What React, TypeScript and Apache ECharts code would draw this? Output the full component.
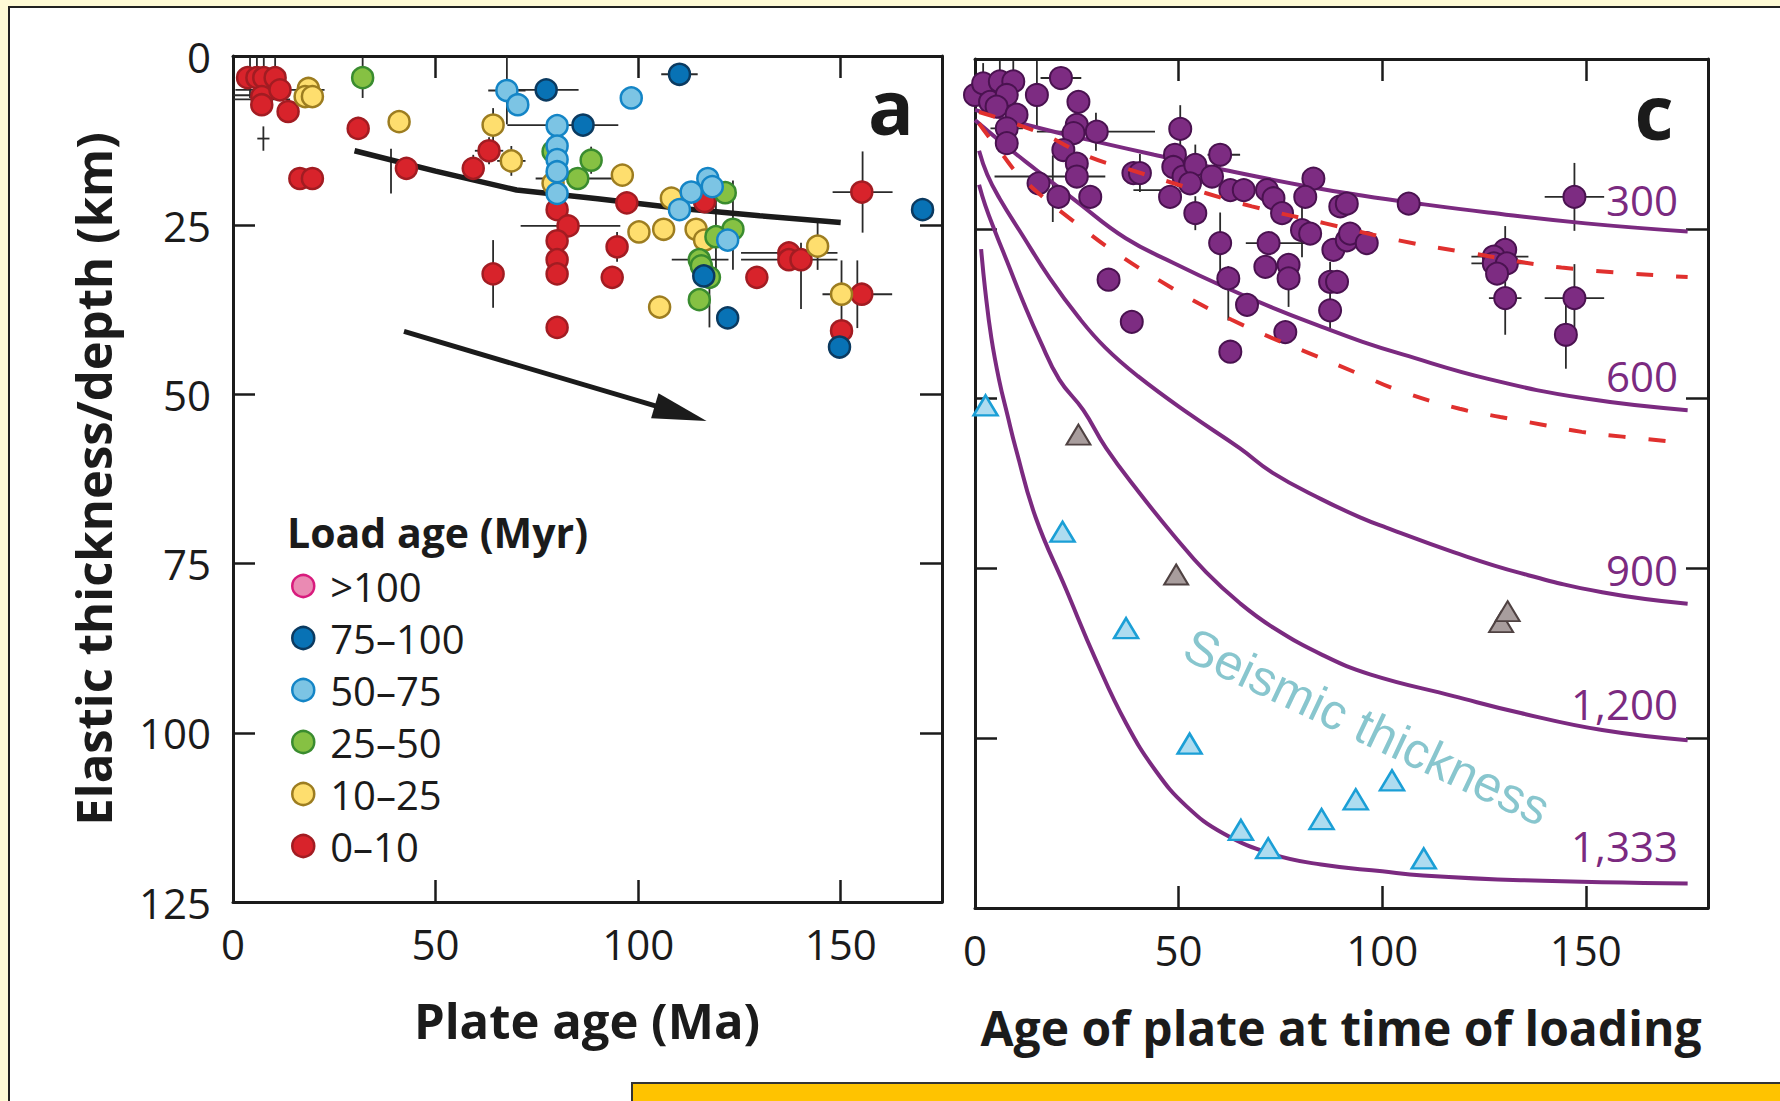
import React, { useEffect, useRef } from "react";
import * as echarts from "echarts";

// ---------------- data (panel a) ----------------
const leftXRange = [0, 175];
const rightXRange = [0, 180];
const depthRange = [0, 125];
const xTickStep = 50;
const yTickStep = 25;

const loadAgeNames = [">100", "75–100", "50–75", "25–50", "10–25", "0–10"];

const loadGt100: number[][] = [];
const load75to100 = [
  [77.3, 5.0], [86.4, 10.2], [110.2, 2.7], [116.2, 32.5], [122.1, 38.7], [149.7, 43.0], [170.2, 22.7],
];
const load50to75 = [
  [67.6, 5.1], [70.3, 7.2], [98.3, 6.2], [80, 10.3], [80, 13.3], [80, 15.3], [80, 17.1], [80, 20.3],
  [117.2, 18.1], [118.3, 19.3], [113.1, 20.1], [110.2, 22.7], [122.1, 27.2],
];
const load25to50 = [
  [32.0, 3.2], [79.0, 14.1], [88.4, 15.4], [85.1, 18.1], [121.5, 20.2], [123.4, 25.6], [119.2, 26.7],
  [115.1, 30.1], [115.6, 31.0], [117.6, 32.7], [115.1, 36.0],
];
const load10to25 = [
  [18.6, 4.8], [17.8, 6.0], [19.6, 6.0], [41.0, 9.7], [64.2, 10.2], [68.7, 15.5], [79.0, 18.8],
  [96.1, 17.6], [100.2, 26.0], [106.3, 25.6], [108.2, 21.0], [114.3, 25.6], [116.4, 27.2],
  [105.3, 37.1], [144.3, 28.1], [150.2, 35.2],
];
const load0to10 = [
  [3.6, 3.2], [5.9, 3.2], [7.6, 3.2], [10.4, 3.2], [7.1, 6.0], [7.1, 7.2], [11.6, 5.0], [13.6, 8.2],
  [16.5, 18.1], [19.6, 18.1], [30.9, 10.7], [42.8, 16.6], [59.3, 16.6], [63.2, 14.0], [64.2, 32.2],
  [80.0, 22.7], [82.7, 25.1], [80.0, 27.3], [80.0, 30.1], [80.0, 32.2], [80.0, 40.1],
  [97.2, 21.7], [94.8, 28.2], [93.6, 32.7], [116.4, 21.5], [129.3, 32.7], [137.2, 29.1],
  [137.2, 30.1], [140.2, 30.1], [155.2, 20.1], [155.2, 35.2], [150.2, 40.6],
];

// [x, y, xErr, yErr]
const errorBarsLeft = [
  [4.2, 3.2, 0, 3], [5.9, 3.2, 0, 3], [7.6, 3.2, 0, 3], [10.4, 3.2, 0, 3],
  [11.6, 5.0, 11, 0], [7.1, 5.8, 7, 0], [7.1, 6.4, 7, 0], [7.5, 12.2, 1.5, 1.8],
  [30.9, 10.7, 0, 1.7], [32.0, 3.2, 0, 3], [39.0, 17.0, 0, 3.3], [59.3, 16.6, 0, 2],
  [64.2, 32.2, 0, 5], [64.2, 10.2, 0, 2.5], [67.6, 5.1, 4.6, 5], [81.4, 10.2, 13.7, 0],
  [77.3, 5.0, 8, 1.6], [110.2, 2.7, 4.5, 1.3], [63.2, 14.0, 3.5, 2], [68.7, 15.5, 3.5, 2.2],
  [83.3, 25.1, 12.3, 0], [84.7, 18.1, 10, 0], [88.4, 15.4, 0, 2], [94.8, 28.2, 0, 2.2],
  [96.1, 17.6, 0, 1.5], [100.2, 26, 0, 1.5], [119.2, 25, 0, 6.6], [123.4, 25, 0, 6.6],
  [117.6, 36.4, 0, 3.7], [115.3, 30.1, 7, 0], [137.3, 30.1, 11.9, 0], [137.3, 29.1, 11.9, 0],
  [140.2, 32.5, 0, 4.9], [144.3, 28.1, 0, 3.5], [155.4, 20.1, 7.4, 6], [154.1, 35.2, 8.6, 5],
  [150.2, 35.2, 0, 5], [170.2, 22.7, 0, 1.5],
];

const trendLine = [[30, 14], [50, 17], [70, 19.8], [90, 21.1], [110, 22.5], [130, 23.6], [150, 24.6]];
const arrowStart = [42.2, 40.7];
const arrowEnd = [110.5, 52.8];

// ---------------- data (panel c) ----------------
const flexureDepths = [
  [0, 5.3], [2, 3.6], [6.1, 3.3], [9.4, 3.3], [3.7, 6.3], [7.8, 5.3], [5.3, 7.0], [10.2, 8.2], [7.8, 10.2], [7.8, 12.4],
  [15.2, 5.3], [21.1, 2.8], [25.4, 6.3], [25, 9.7], [24.2, 10.9], [29.9, 10.7], [21.7, 13.4], [25, 15.4], [25, 17.3],
  [15.6, 18.3], [20.5, 20.3], [28.3, 20.3], [32.8, 32.5], [38.5, 38.7], [38.9, 16.8], [40.5, 16.8],
  [50.4, 10.3], [49.1, 14.1], [48.7, 15.9], [47.9, 20.3], [51.2, 17.3], [54.1, 15.6], [52.8, 18.3], [58.2, 17.3],
  [60.2, 14.1], [54.1, 22.7], [62.7, 19.3], [66, 19.3], [71.7, 19.3], [73.3, 20.5], [75.4, 22.7], [83.1, 17.6],
  [81.1, 20.3], [89.7, 21.7], [91.3, 21.3], [60.2, 27.1], [72.1, 27.1], [80.3, 25.2], [82.3, 25.7], [71.3, 30.6],
  [77, 30.3], [77, 32.3], [62.2, 32.3], [88, 28.1], [91.3, 26.7], [92.1, 25.7], [96.2, 27.1], [87.2, 32.8],
  [88.9, 32.8], [87.2, 37], [66.8, 36.2], [76.2, 40.2], [62.7, 43.1], [106.5, 21.3], [130.2, 28.1],
  [127.4, 29.1], [127.4, 30.1], [130.6, 30.1], [128.2, 31.6], [130.2, 35.2], [147.2, 20.3], [147.2, 35.2],
  [145.1, 40.6],
];

const errorBarsRight = [
  [2, 3.6, 0, 3], [6.1, 3.3, 0, 3], [9.4, 3.3, 0, 3],
  [21.1, 2.8, 5, 1.2], [15.2, 5.3, 0, 5], [7.8, 10.2, 4, 0], [29.7, 10.7, 14.5, 2.8], [18.4, 17.3, 13.6, 0],
  [19.1, 19.1, 0, 4.9], [40.5, 16.8, 0, 2.8], [43.8, 19.3, 4.9, 0], [50.4, 10.3, 0, 3.5], [54.1, 15.6, 0, 3],
  [61.1, 14.1, 4, 0], [60.2, 27.1, 0, 4.5], [62.2, 34.5, 0, 4], [54.1, 22.7, 0, 2.5], [74, 27.1, 7.5, 0],
  [80.3, 25.2, 0, 4], [77, 33.5, 0, 3], [83.1, 17.6, 0, 1.5], [87.2, 34.9, 0, 5], [106.5, 21.3, 0, 1.5],
  [130.2, 32.6, 0, 8], [128.9, 29.1, 7, 0], [128.9, 30.1, 7, 0], [130.2, 35.2, 4, 0], [147.2, 20.3, 7.3, 5],
  [147.2, 35.2, 7.3, 5], [145.1, 40.6, 0, 5],
];

const seismicThickness = [
  [2.6, 51], [21.5, 69.6], [37.1, 83.8], [52.7, 100.8], [65.3, 113.5], [72, 116.2], [85.1, 111.9],
  [93.5, 109], [102.4, 106.2], [110.2, 117.7],
];
const otherSeismic = [[25.4, 55.3], [49.4, 75.9], [129.2, 82.9], [130.8, 81.3]];

const isotherm300 = [[0, 7.5], [16, 10.2], [30, 12.2], [44, 14.1], [61, 16.3], [82, 18.8], [95, 20.1], [109, 21.3], [126, 22.6], [150, 24.2], [175, 25.4]];
const isotherm600 = [[0, 9], [8, 13], [15, 16.3], [25, 21], [37, 26.4], [49, 30.1], [61, 33.5], [73, 36.6], [85, 39.4], [95, 41.6], [105, 43.5], [126, 47.1], [150, 50], [175, 51.7]];
const isotherm900 = [[1, 13.5], [3, 17], [6, 20.5], [11.5, 25.8], [18.4, 32.3], [25.4, 38], [32, 42.5], [40, 46.7], [52.7, 52.3], [65, 57.3], [73, 60.9], [85, 64.8], [95, 67.6], [101, 69], [117.5, 72.6], [134, 75.7], [154, 78.5], [175, 80.2]];
const isotherm1200 = [[1, 18.5], [2.5, 21.5], [5, 25.5], [8, 30], [12, 36], [16, 41.5], [20.7, 47.2], [26.6, 51.7], [32.2, 57.3], [40.4, 63.9], [48.6, 70], [56.8, 75.6], [65, 80.1], [73.2, 83.7], [85.5, 87.8], [97, 90.6], [117.5, 93.8], [134, 96.3], [154, 98.8], [175, 100.3]];
const isotherm1333 = [[1.5, 28], [2.5, 34], [4, 41], [5.9, 47.2], [8, 52.5], [10, 57.3], [14.9, 67.5], [22.3, 78], [29.7, 88.5], [37.1, 97.8], [44.5, 104.9], [51.9, 110], [60.9, 114], [73.2, 117.1], [85, 118.6], [100, 119.6], [110, 120.2], [134, 120.9], [175, 121.4]];
const dashedUpper = [[1, 7.8], [16, 10.9], [28, 14.4], [37, 16.1], [57, 19.8], [68, 21.7], [86, 24.2], [104, 26.7], [122, 28.6], [144, 30.7], [175, 32.1]];
const dashedLower = [[1, 9.5], [6, 13.5], [12, 17.8], [27, 25.2], [36, 29.1], [45, 32.5], [55, 36], [63, 38.4], [73, 41.1], [82, 43.3], [94, 46.3], [105, 49], [119, 51.5], [129, 52.7], [139, 53.8], [149, 54.9], [159, 55.6], [174, 56.5]];

const isothermLabels = ["300", "600", "900", "1,200", "1,333"];

// ---------------- styles ----------------
const INK = "#1b1b1b";
const PURPLE = "#7b2a80";
const FONT = "'Open Sans', 'Noto Sans', sans-serif";

const loadStyles: Record<string, { fill: string; stroke: string }> = {
  ">100": { fill: "#ea8ab3", stroke: "#d81b7d" },
  "75–100": { fill: "#0872b5", stroke: "#0b3a60" },
  "50–75": { fill: "#7cc4e4", stroke: "#1485c6" },
  "25–50": { fill: "#86c143", stroke: "#3a8c2f" },
  "10–25": { fill: "#fede6e", stroke: "#9d7d20" },
  "0–10": { fill: "#d8232b", stroke: "#a21c22" },
};
const loadData: Record<string, number[][]> = {
  ">100": loadGt100,
  "75–100": load75to100,
  "50–75": load50to75,
  "25–50": load25to50,
  "10–25": load10to25,
  "0–10": load0to10,
};
const drawOrder = ["0–10", "10–25", "25–50", "50–75", "75–100", ">100"];

const errRender = (_params: any, api: any) => {
  const x = api.value(0), y = api.value(1), ex = api.value(2), ey = api.value(3);
  const style = { stroke: "#2a2a2a", lineWidth: 1.8 };
  const children: any[] = [];
  if (ex > 0) {
    const a = api.coord([x - ex, y]);
    const b = api.coord([x + ex, y]);
    children.push({ type: "line", shape: { x1: a[0], y1: a[1], x2: b[0], y2: b[1] }, style });
  }
  if (ey > 0) {
    const a = api.coord([x, y - ey]);
    const b = api.coord([x, y + ey]);
    children.push({ type: "line", shape: { x1: a[0], y1: a[1], x2: b[0], y2: b[1] }, style });
  }
  return { type: "group", children };
};

function makeX(gridIndex: number, range: number[], position: "top" | "bottom", labels: boolean) {
  return {
    type: "value", gridIndex, min: range[0], max: range[1], interval: xTickStep, position,
    axisLine: { show: true, onZero: false, lineStyle: { color: INK, width: 3 } },
    axisTick: { show: true, inside: true, length: 22, lineStyle: { color: INK, width: 2.5 } },
    axisLabel: { show: labels, fontSize: 42, color: INK, fontFamily: FONT, margin: 20, showMaxLabel: false },
    splitLine: { show: false },
  };
}
function makeY(gridIndex: number, position: "left" | "right", labels: boolean) {
  return {
    type: "value", gridIndex, min: depthRange[0], max: depthRange[1], interval: yTickStep, inverse: true, position,
    axisLine: { show: true, onZero: false, lineStyle: { color: INK, width: 3 } },
    axisTick: { show: true, inside: true, length: 22, lineStyle: { color: INK, width: 2.5 } },
    axisLabel: { show: labels, fontSize: 42, color: INK, fontFamily: FONT, margin: 22 },
    splitLine: { show: false },
  };
}

function curve(data: number[][], color: string, width: number, dashed = false) {
  return {
    type: "line", xAxisIndex: 2, yAxisIndex: 2, data, symbol: "none", smooth: 0.45, silent: true,
    lineStyle: { color, width, type: dashed ? [17, 23] : "solid" }, z: dashed ? 4 : 2,
  };
}

const textStyle = (extra: any) => ({
  fontFamily: FONT, fill: INK, align: "center", verticalAlign: "middle",
  textAlign: "center", textVerticalAlign: "middle", ...extra,
});

export default function App() {
  const ref = useRef<HTMLDivElement>(null);

  useEffect(() => {
    if (!ref.current) return;
    const chart = echarts.init(ref.current, null, { renderer: "svg" });

    const scatterLeft = drawOrder.map((name) => ({
      name, type: "scatter", xAxisIndex: 0, yAxisIndex: 0, data: loadData[name],
      symbol: "circle", symbolSize: 21, clip: false, z: 3,
      itemStyle: { color: loadStyles[name].fill, borderColor: loadStyles[name].stroke, borderWidth: 2.5, opacity: 1 },
    }));

    const option: any = {
      animation: false,
      grid: [
        { left: 233, top: 56, width: 709, height: 846 },
        { left: 975, top: 59, width: 733, height: 849 },
      ],
      xAxis: [
        makeX(0, leftXRange, "bottom", true),
        makeX(0, leftXRange, "top", false),
        makeX(1, rightXRange, "bottom", true),
        makeX(1, rightXRange, "top", false),
      ],
      yAxis: [
        makeY(0, "left", true),
        makeY(0, "right", false),
        makeY(1, "left", false),
        makeY(1, "right", false),
      ],
      legend: {
        orient: "vertical", left: 286, top: 561, itemWidth: 22, itemHeight: 22, itemGap: 12,
        icon: "circle", selectedMode: false,
        data: loadAgeNames.map((n) => ({
          name: n, icon: "circle",
          itemStyle: { color: loadStyles[n].fill, borderColor: loadStyles[n].stroke, borderWidth: 2.5 },
        })),
        textStyle: { fontSize: 40, fontFamily: FONT, color: INK, lineHeight: 40, padding: [0, 0, 0, 11] },
      },
      series: [
        {
          type: "custom", name: "errLeft", xAxisIndex: 0, yAxisIndex: 0, data: errorBarsLeft,
          renderItem: errRender, encode: { x: 0, y: 1 }, silent: true, z: 1,
        },
        {
          type: "line", name: "trend", xAxisIndex: 0, yAxisIndex: 0, data: trendLine, symbol: "none",
          lineStyle: { color: INK, width: 5.5 }, silent: true, z: 2,
          markLine: {
            silent: true, symbol: ["none", "triangle"], symbolSize: [26, 54],
            lineStyle: { color: INK, width: 5, type: "solid" },
            itemStyle: { color: INK },
            label: { show: false },
            data: [[{ coord: arrowStart }, { coord: arrowEnd }]],
          },
        },
        ...scatterLeft,
        curve(isotherm300, PURPLE, 4),
        curve(isotherm600, PURPLE, 4),
        curve(isotherm900, PURPLE, 4),
        curve(isotherm1200, PURPLE, 4),
        curve(isotherm1333, PURPLE, 4),
        {
          type: "custom", name: "errRight", xAxisIndex: 2, yAxisIndex: 2, data: errorBarsRight,
          renderItem: errRender, encode: { x: 0, y: 1 }, silent: true, z: 2,
        },
        {
          type: "scatter", name: "flexure", xAxisIndex: 2, yAxisIndex: 2, data: flexureDepths,
          symbol: "circle", symbolSize: 22, clip: false, z: 3,
          itemStyle: { color: "#7d2c82", borderColor: "#4a1250", borderWidth: 2, opacity: 1 },
        },
        {
          type: "scatter", name: "seismic", xAxisIndex: 2, yAxisIndex: 2, data: seismicThickness,
          symbol: "triangle", symbolSize: [24, 20], clip: false, z: 3,
          itemStyle: { color: "#aedcf0", borderColor: "#1b9fd6", borderWidth: 2.5, opacity: 1 },
        },
        {
          type: "scatter", name: "seismicOther", xAxisIndex: 2, yAxisIndex: 2, data: otherSeismic,
          symbol: "triangle", symbolSize: [24, 20], clip: false, z: 3,
          itemStyle: { color: "#a89d9d", borderColor: "#4f4242", borderWidth: 2, opacity: 1 },
        },
        curve(dashedUpper, "#e0302e", 4, true),
        curve(dashedLower, "#e0302e", 4, true),
      ],
      graphic: [
        { type: "text", x: 93, y: 479, rotation: Math.PI / 2, z: 10,
          style: textStyle({ text: "Elastic thickness/depth (km)", fontSize: 49, fontWeight: "bold" }) },
        { type: "text", x: 587, y: 1020, z: 10,
          style: textStyle({ text: "Plate age (Ma)", fontSize: 49, fontWeight: "bold" }) },
        { type: "text", x: 1341, y: 1027, z: 10,
          style: textStyle({ text: "Age of plate at time of loading", fontSize: 48, fontWeight: "bold" }) },
        { type: "text", x: 891, y: 105, z: 10,
          style: textStyle({ text: "a", fontSize: 76, fontWeight: "bold" }) },
        { type: "text", x: 1654, y: 110, z: 10,
          style: textStyle({ text: "c", fontSize: 76, fontWeight: "bold" }) },
        { type: "text", x: 287, y: 532, z: 10,
          style: textStyle({ text: "Load age (Myr)", fontSize: 41, fontWeight: "bold", align: "left", textAlign: "left" }) },
        ...isothermLabels.map((t, i) => ({
          type: "text", x: 1678, y: [199, 375, 569, 703, 845][i], z: 10,
          style: textStyle({ text: t, fontSize: 42, fill: PURPLE, align: "right", textAlign: "right" }),
        })),
        { type: "text", x: 1367, y: 727, rotation: -0.44, z: 10,
          style: textStyle({ text: "Seismic thickness", fontSize: 50, fontFamily: "'Liberation Sans', Arial, sans-serif", fill: "#88c6ce" }) },
      ],
    };

    chart.setOption(option);
    return () => chart.dispose();
  }, []);

  return (
    <div style={{ position: "absolute", left: 0, top: 0, width: 1780, height: 1101, background: "#fffbd6", overflow: "hidden" }}>
      <div style={{ position: "absolute", left: 8, top: 6, width: 1772, height: 1095, background: "#ffffff", borderLeft: "2px solid #222", borderTop: "2px solid #222", boxSizing: "border-box" }} />
      <div style={{ position: "absolute", left: 631, top: 1082, width: 1149, height: 19, background: "#ffc300", borderLeft: "2px solid #333", borderTop: "2px solid #333", boxSizing: "border-box" }} />
      <div ref={ref} style={{ position: "absolute", left: 0, top: 0, width: 1780, height: 1101 }} />
    </div>
  );
}
